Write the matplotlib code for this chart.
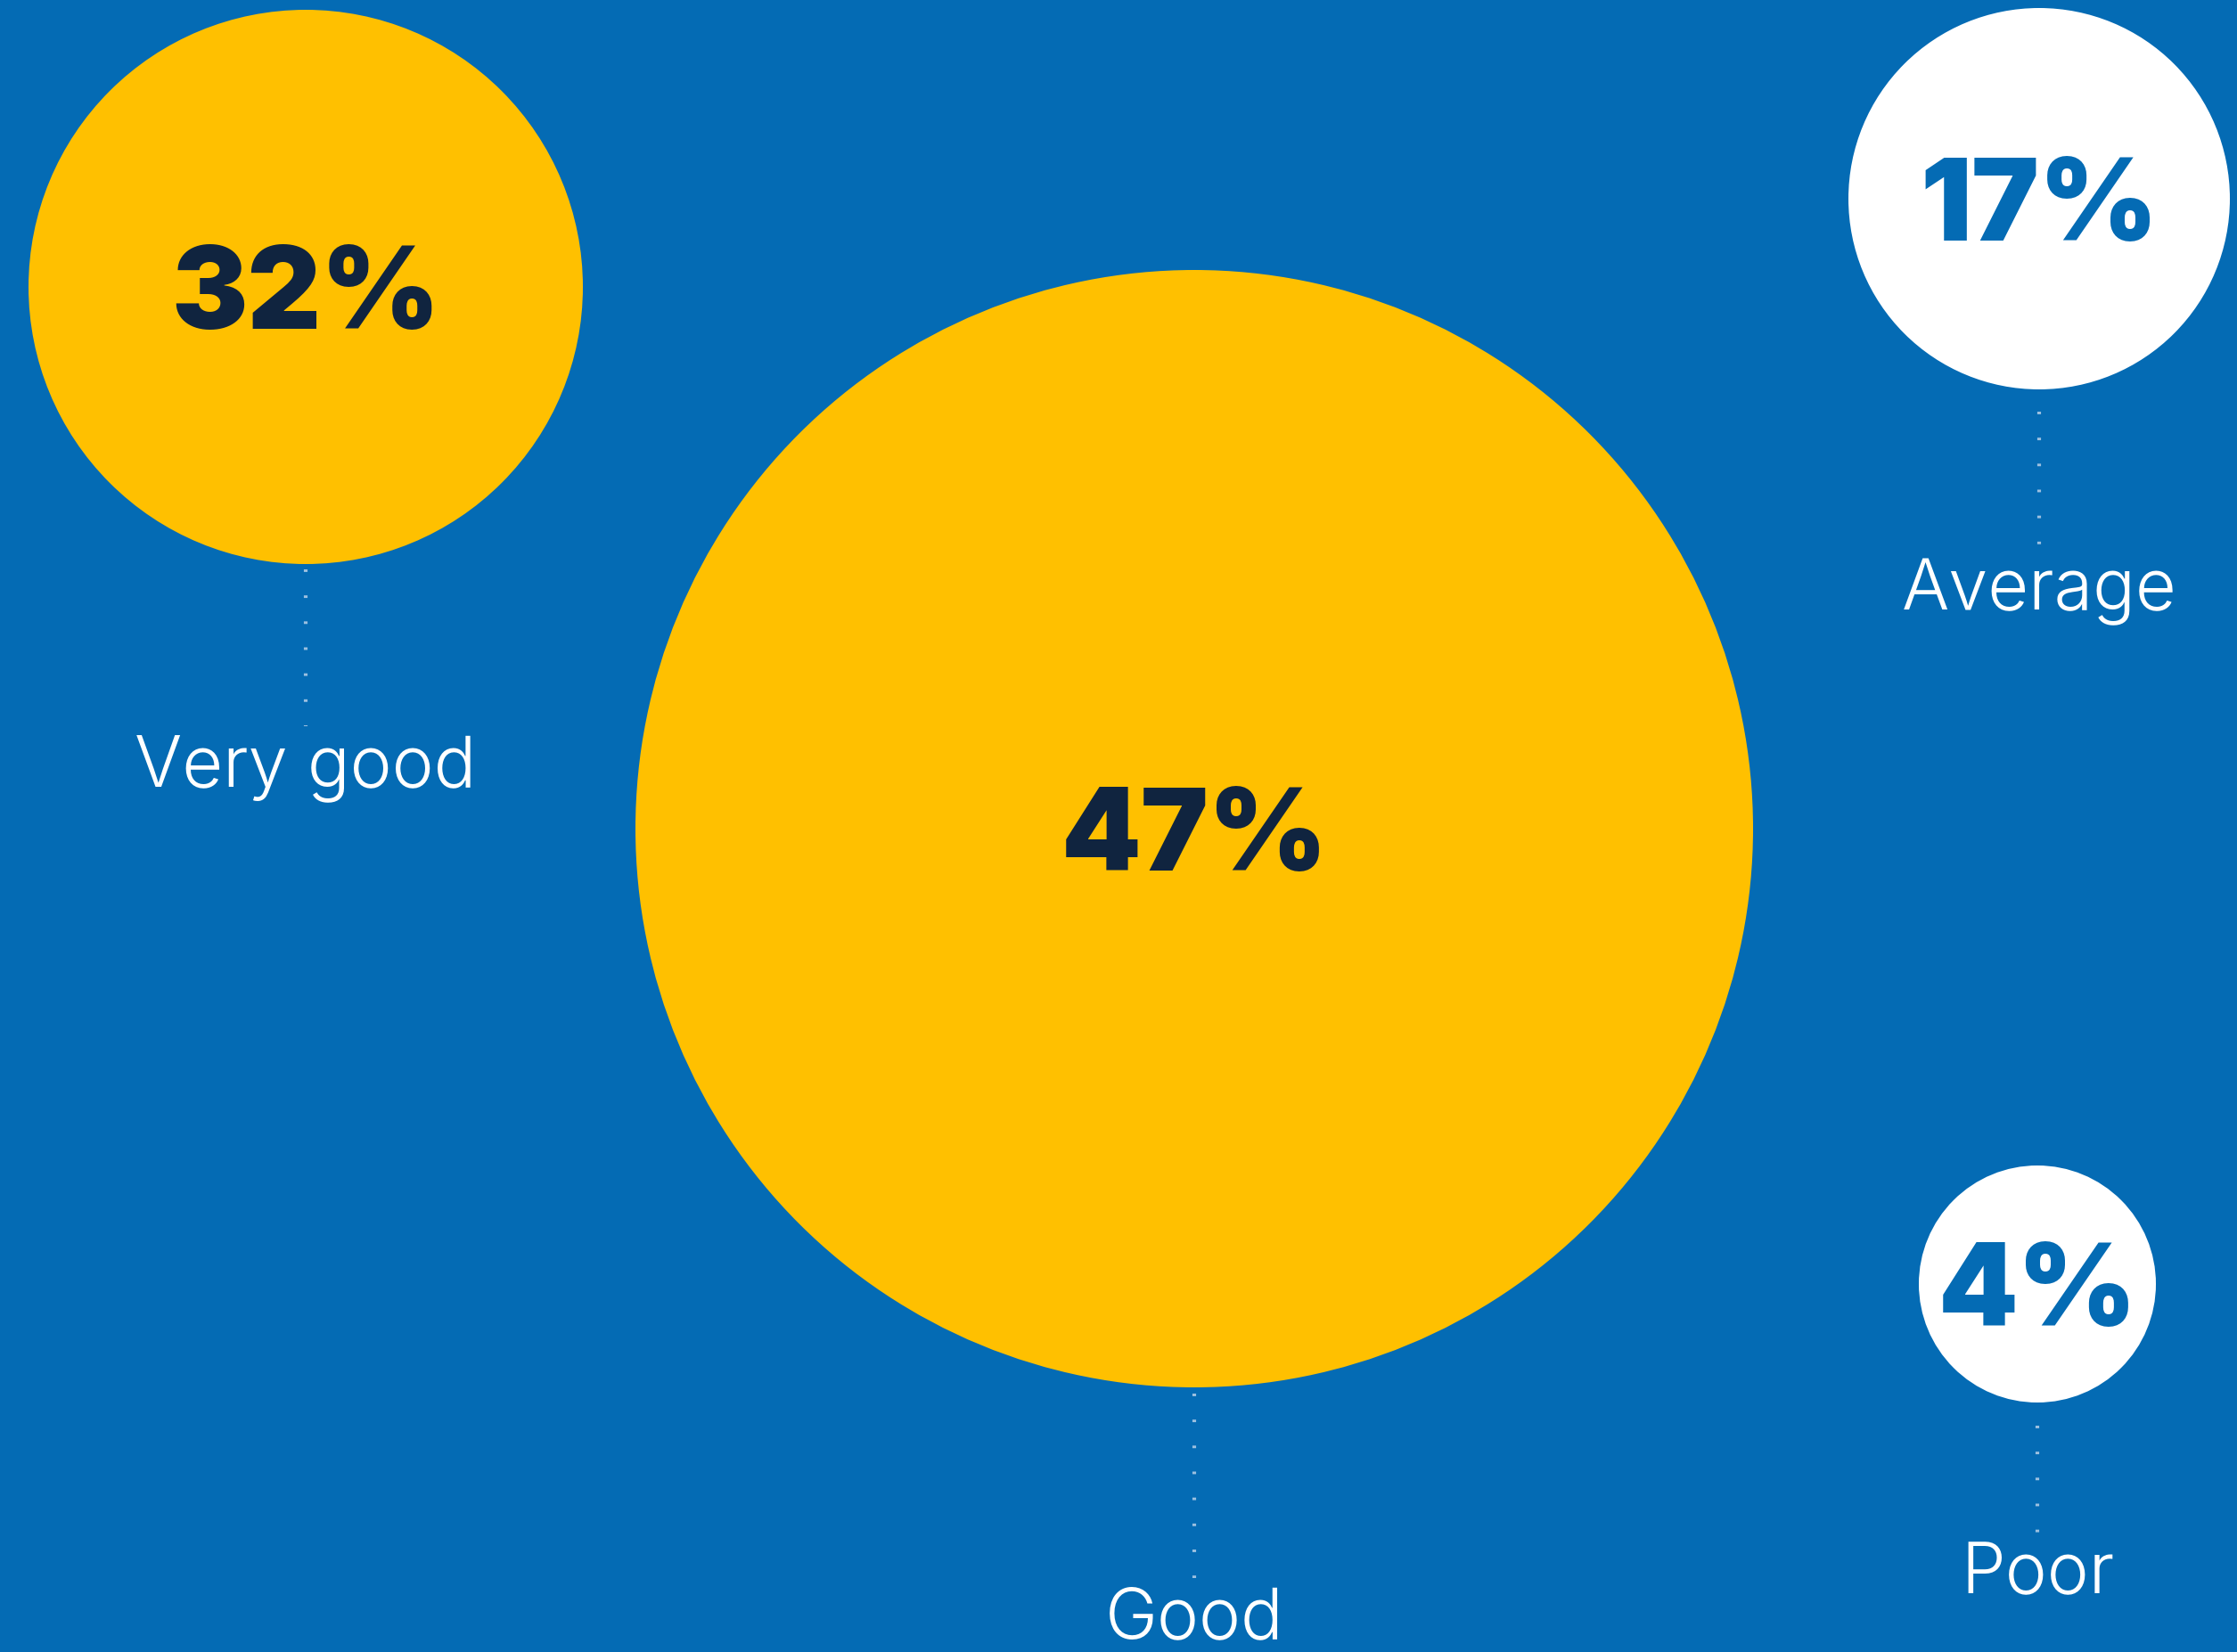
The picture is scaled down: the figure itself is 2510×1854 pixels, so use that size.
import matplotlib
matplotlib.use("Agg")
import matplotlib.pyplot as plt
from matplotlib.patches import Circle

# data
categories = ["Very good", "Good", "Average", "Poor"]
values = [32, 47, 17, 4]

# layout (pixels, y down)
centers_x = [343, 1340, 2288, 2286]
centers_y = [322, 930, 223, 1441]
radii = [311, 627, 214, 133]
label_baseline = [882, 1838, 684, 1788]
dots_start = [639, 1564, 462, 1600]
dots_end = [815, 1771, 611, 1720]
fills = ["#FFC000", "#FFC000", "white", "white"]
text_colors = ["#10243F", "#10243F", "#046BB4", "#046BB4"]

bg = "#046BB4"

fig = plt.figure(figsize=(25.1, 18.54), dpi=100)
fig.patch.set_facecolor(bg)
ax = fig.add_axes([0, 0, 1, 1])
ax.set_facecolor(bg)
ax.set_xlim(0, 2510)
ax.set_ylim(1854, 0)
ax.set_aspect("equal")
ax.axis("off")

for i, cat in enumerate(categories):
    cx, cy, r = centers_x[i], centers_y[i], radii[i]
    ax.add_patch(Circle((cx, cy), r, facecolor=fills[i], edgecolor="none", zorder=2))
    ax.text(cx, cy + 47, f"{values[i]}%", ha="center", va="baseline", fontsize=92,
            fontfamily="Inter", fontweight=900, color=text_colors[i], zorder=3)
    ax.plot([cx, cx], [dots_start[i], dots_end[i]], color="#9CC0E0", lw=3,
            linestyle=(0, (0.7, 6.3)), dash_capstyle="butt", zorder=1)
    ax.text(cx, label_baseline[i], cat, ha="center", va="baseline", fontsize=57,
            fontfamily="Inter", fontweight=300, color="white", zorder=3)

fig.savefig("out.png", dpi=100, facecolor=bg)
